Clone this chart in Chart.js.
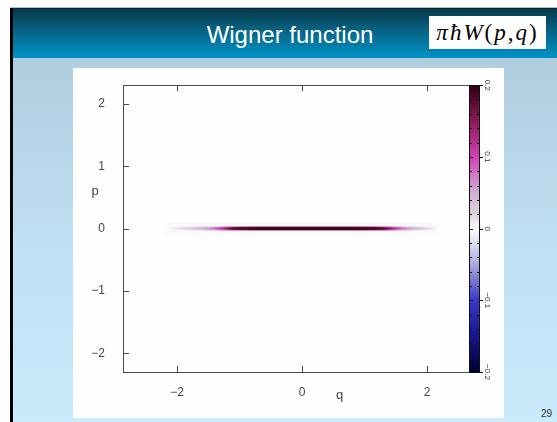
<!DOCTYPE html>
<html><head><meta charset="utf-8">
<script src="https://cdn.jsdelivr.net/npm/chart.js@4.4.1/dist/chart.umd.min.js"></script>
<style>
html,body{margin:0;padding:0;width:557px;height:422px;overflow:hidden;background:#fff;}
.abs{position:absolute;}
#topline{left:10px;top:7px;width:547px;height:1px;background:#bdbdbd;}
#leftbar{left:10px;top:8px;width:3px;height:414px;background:#000;}
#header{left:13px;top:8px;width:544px;height:50px;background:linear-gradient(#06394a 0%,#08607f 40%,#0093c6 100%);border-top:1px solid #0b2630;box-sizing:border-box;}
#body{left:13px;top:58px;width:544px;height:364px;background:linear-gradient(#b1cde0 0%,#bfe0f2 50%,#c9ebfc 100%);}
#title{left:151px;top:23px;width:278px;text-align:center;font:24px "Liberation Sans",Arial,sans-serif;line-height:24px;color:#fff;}
#formula{left:429px;top:16px;width:117px;height:33px;background:#fff;text-align:center;font:23px "Liberation Serif","Times New Roman",serif;line-height:33px;color:#000;letter-spacing:2px;white-space:nowrap;}
#page{left:528px;top:408px;width:24px;text-align:right;font:10px "Liberation Sans",Arial,sans-serif;color:#333;}
#figbox{left:73px;top:68px;width:431px;height:350px;background:#fefefe;}
</style></head>
<body>
<div id="topline" class="abs"></div>
<div id="header" class="abs"></div>
<div id="body" class="abs"></div>
<div id="leftbar" class="abs"></div>
<div id="title" class="abs">Wigner function</div>
<div id="formula" class="abs"><i>πħW</i>(<i>p</i>,<i>q</i>)</div>
<div id="page" class="abs">29</div>
<div id="figbox" class="abs"><canvas id="c" width="431" height="350"></canvas></div>
<script>
// ---- data ----
const qVals = [-2.2,-2.1,-2.0,-1.9,-1.8,-1.7,-1.6,-1.5,-1.4,-1.3,-1.2,-1.1,-1.0,-0.9,-0.8,
  -0.7,-0.6,-0.5,-0.4,-0.3,-0.2,-0.1,0.0,0.1,0.2,0.3,0.4,0.5,0.6,0.7,0.8,0.9,
  1.0,1.1,1.2,1.3,1.4,1.5,1.6,1.7,1.8,1.9,2.0,2.1,2.2];
// W along the centre line p = 0
const wCore = [0.000,0.006,0.012,0.018,0.025,0.035,0.045,0.060,0.080,0.110,0.150,0.190,0.220,0.240,0.250,
  0.250,0.250,0.250,0.250,0.250,0.250,0.250,0.250,0.250,0.250,0.250,0.250,0.250,0.250,0.250,0.250,0.250,
  0.250,0.240,0.220,0.190,0.150,0.110,0.080,0.060,0.045,0.035,0.020,0.010,0.000];
// W just off the centre line (|p| ~ 0.025)
const wEdge = [0.000,0.003,0.006,0.009,0.013,0.018,0.024,0.032,0.045,0.065,0.090,0.110,0.130,0.140,0.150,
  0.160,0.160,0.160,0.160,0.160,0.160,0.160,0.160,0.160,0.160,0.160,0.160,0.160,0.160,0.160,0.160,0.160,
  0.150,0.140,0.130,0.110,0.090,0.065,0.045,0.030,0.022,0.016,0.010,0.005,0.000];
const pLine = 0;
const xTicks = [-2, 0, 2];
const yTicks = [-2, -1, 0, 1, 2];
const cbTicks = [-0.2, -0.1, 0, 0.1, 0.2];
const cbMinor = [-0.18,-0.16,-0.14,-0.12,-0.08,-0.06,-0.04,-0.02,0.02,0.04,0.06,0.08,0.12,0.14,0.16,0.18];
const cmapVals = [-0.2,-0.15,-0.1,-0.05,0,0.02,0.05,0.1,0.15,0.2];
const cmapColors = ['#000035','#16168a','#3838c8','#aaaadc','#ffffff','#dcd4dc','#d0b0d8','#d040b4','#8c1a5a','#2c000e'];
const xRange = [-2.864, 2.672];
const yRange = [-2.3, 2.3];
const cbRange = [-0.2, 0.2];

function hex2rgb(h){return [1,3,5].map(i=>parseInt(h.substr(i,2),16));}
const cmapRGB = cmapColors.map(hex2rgb);
function cmap(v){
  v = Math.max(cbRange[0], Math.min(cbRange[1], v));
  for(let i=0;i<cmapVals.length-1;i++){
    if(v<=cmapVals[i+1]){
      const t=(v-cmapVals[i])/(cmapVals[i+1]-cmapVals[i]);
      const a=cmapRGB[i], b=cmapRGB[i+1];
      return 'rgb('+a.map((c,k)=>Math.round(c+(b[k]-c)*t)).join(',')+')';
    }
  }
  return cmapColors[cmapColors.length-1];
}
// horizontal gradient along the line, positioned through the x scale
function lineGradient(ctx, values){
  const chart = ctx.chart, x = chart.scales.x;
  if(!chart.chartArea || !x) return cmap(0.2);
  const x0 = x.getPixelForValue(qVals[0]), x1 = x.getPixelForValue(qVals[qVals.length-1]);
  const g = chart.ctx.createLinearGradient(x0,0,x1,0);
  qVals.forEach((q,i)=>{
    g.addColorStop((x.getPixelForValue(q)-x0)/(x1-x0), cmap(values[i]));
  });
  return g;
}
const fmt = v => (v<0 ? '\u2212'+Math.abs(v) : String(v));
const pts = qVals.map(q=>({x:q,y:pLine}));

const deco = {
  id:'deco',
  afterDraw(chart){
    const {ctx, chartArea:a, scales} = chart;
    const x=scales.x, y=scales.y, cb=scales.cb;
    ctx.save();
    const line=(x1,y1,x2,y2)=>{ctx.beginPath();ctx.moveTo(x1,y1);ctx.lineTo(x2,y2);ctx.stroke();};
    // frame
    ctx.strokeStyle='#4a4a4a'; ctx.lineWidth=1;
    ctx.strokeRect(Math.round(a.left)+0.5, Math.round(a.top)+0.5, Math.round(a.right-a.left), Math.round(a.bottom-a.top));
    // inward ticks
    xTicks.forEach(v=>{const px=Math.round(x.getPixelForValue(v))+0.5; line(px,a.bottom,px,a.bottom-6); line(px,a.top,px,a.top+6);});
    yTicks.forEach(v=>{const py=Math.round(y.getPixelForValue(v))+0.5; line(a.left,py,a.left+6,py);});
    // colour bar
    const L=Math.round(a.right), W=11;
    const T=cb.getPixelForValue(cbRange[1]), B=cb.getPixelForValue(cbRange[0]);
    const g=ctx.createLinearGradient(0,B,0,T);
    cmapVals.forEach((v,i)=>g.addColorStop((v-cbRange[0])/(cbRange[1]-cbRange[0]), cmapColors[i]));
    ctx.fillStyle=g; ctx.fillRect(L,T,W,B-T);
    ctx.strokeStyle='#111'; ctx.strokeRect(L+0.5,Math.round(T)+0.5,W-1,Math.round(B-T));
    cbMinor.forEach(v=>{const py=Math.round(cb.getPixelForValue(v))+0.5; line(L,py,L+3,py); line(L+W,py,L+W-3,py);});
    cbTicks.forEach(v=>{const py=Math.round(cb.getPixelForValue(v))+0.5; line(L,py,L+4,py); line(L+W,py,L+W+3,py);});
    ctx.fillStyle='#333'; ctx.font='8px "Liberation Sans", Arial, sans-serif';
    ctx.textAlign='center'; ctx.textBaseline='middle';
    cbTicks.forEach(v=>{
      const py=cb.getPixelForValue(v);
      ctx.save(); ctx.translate(L+W+7, py); ctx.rotate(Math.PI/2);
      ctx.fillText(fmt(v),0,0); ctx.restore();
    });
    // axis titles
    ctx.fillStyle='#444'; ctx.font='13px "Liberation Sans", Arial, sans-serif';
    ctx.fillText('q', x.getPixelForValue(0.6), a.bottom+23);
    ctx.fillText('p', a.left-28, y.getPixelForValue(0.6));
    ctx.restore();
  }
};

new Chart(document.getElementById('c'), {
  type:'line',
  data:{datasets:[
    {data:pts, borderWidth:2, pointRadius:0, borderCapStyle:'butt', borderColor:c=>lineGradient(c,wCore)},
    {data:pts, borderWidth:4, pointRadius:0, borderCapStyle:'butt', borderColor:c=>lineGradient(c,wEdge)},
    {data:pts, borderWidth:12, pointRadius:0, borderCapStyle:'butt', borderColor:'rgba(150,150,150,0.05)'}
  ]},
  options:{
    responsive:false, animation:false,
    layout:{padding:{top:16,left:0,right:0,bottom:0}},
    plugins:{legend:{display:false}, tooltip:{enabled:false}},
    scales:{
      x:{type:'linear', min:xRange[0], max:xRange[1], grid:{display:false}, border:{display:false},
         afterBuildTicks:s=>{s.ticks=xTicks.map(v=>({value:v}));},
         afterFit:s=>{s.height=46;},
         ticks:{callback:fmt, padding:5, color:'#444', font:{family:'"Liberation Sans", Arial, sans-serif', size:12}, maxRotation:0}},
      y:{type:'linear', min:yRange[0], max:yRange[1], grid:{display:false}, border:{display:false},
         afterBuildTicks:s=>{s.ticks=yTicks.map(v=>({value:v}));},
         afterFit:s=>{s.width=50;},
         ticks:{callback:fmt, padding:10, color:'#444', font:{family:'"Liberation Sans", Arial, sans-serif', size:12}}},
      cb:{type:'linear', position:'right', min:cbRange[0], max:cbRange[1], grid:{display:false}, border:{display:false},
         ticks:{display:false}, afterFit:s=>{s.width=35;}}
    }
  },
  plugins:[deco]
});
</script>
</body></html>
